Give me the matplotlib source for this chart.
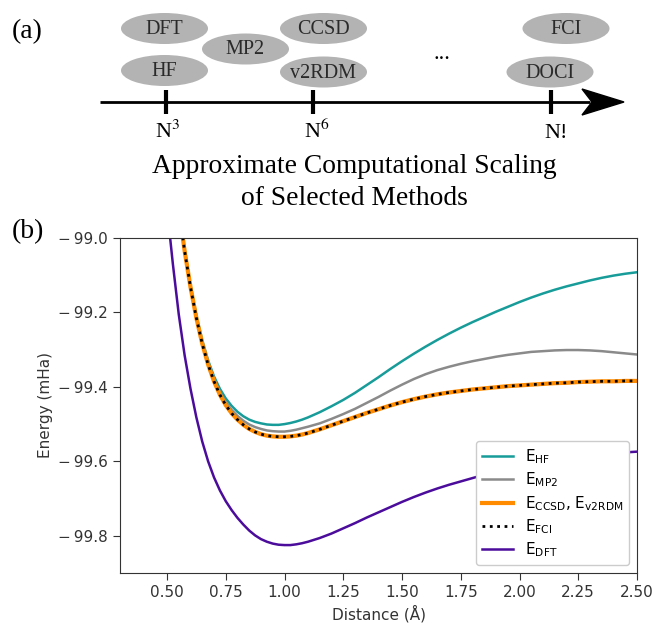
import matplotlib.pyplot as plt
from matplotlib.patches import Ellipse, Polygon

# bond distances (Angstrom): fine spacing near the well, coarser further out
distance = [0.450, 0.475, 0.500, 0.525, 0.550, 0.575, 0.600, 0.625, 0.650,
            0.675, 0.700, 0.725, 0.750, 0.775, 0.800, 0.825, 0.850, 0.875,
            0.900, 0.925, 0.950, 0.975, 1.000, 1.025, 1.050, 1.075, 1.100,
            1.15, 1.20, 1.25, 1.30, 1.35, 1.40, 1.45, 1.50, 1.55, 1.60, 1.65,
            1.70, 1.75, 1.80, 1.85, 1.90, 1.95, 2.00, 2.05, 2.10, 2.15, 2.20,
            2.25, 2.30, 2.35, 2.40, 2.45, 2.50]

e_hf = [-98.44, -98.55, -98.66, -98.79, -98.915, -99.030, -99.127, -99.208,
        -99.275, -99.329, -99.372, -99.405, -99.431, -99.451, -99.467, -99.479,
        -99.488, -99.494, -99.498, -99.501, -99.502, -99.502, -99.500, -99.497,
        -99.493, -99.488, -99.482,
        -99.468, -99.452, -99.435, -99.416, -99.395, -99.374, -99.352, -99.331,
        -99.311, -99.292, -99.274, -99.257, -99.241, -99.226, -99.212, -99.198,
        -99.185, -99.172, -99.160, -99.149, -99.139, -99.130, -99.122, -99.114,
        -99.107, -99.101, -99.096, -99.092]

e_mp2 = [-98.445, -98.555, -98.665, -98.795, -98.918, -99.033, -99.130, -99.212,
         -99.280, -99.335, -99.379, -99.414, -99.441, -99.462, -99.478, -99.491,
         -99.501, -99.508, -99.513, -99.517, -99.519, -99.520, -99.520, -99.518,
         -99.515, -99.511, -99.507,
         -99.498, -99.486, -99.473, -99.459, -99.443, -99.427, -99.410, -99.394,
         -99.379, -99.366, -99.355, -99.346, -99.338, -99.331, -99.325, -99.319,
         -99.314, -99.310, -99.306, -99.304, -99.302, -99.301, -99.301, -99.302,
         -99.304, -99.307, -99.310, -99.313]

e_ccsd = [-98.45, -98.56, -98.67, -98.80, -98.920, -99.035, -99.132, -99.215,
          -99.284, -99.340, -99.385, -99.421, -99.449, -99.471, -99.488, -99.502,
          -99.513, -99.521, -99.527, -99.531, -99.533, -99.534, -99.534, -99.533,
          -99.531, -99.528, -99.524,
          -99.514, -99.503, -99.492, -99.481, -99.470, -99.460, -99.450, -99.441,
          -99.433, -99.426, -99.420, -99.415, -99.411, -99.407, -99.404, -99.401,
          -99.398, -99.396, -99.394, -99.392, -99.390, -99.389, -99.387, -99.386,
          -99.385, -99.385, -99.384, -99.384]

e_fci = list(e_ccsd)

e_dft = [-98.58, -98.76, -98.92, -99.070, -99.205, -99.315, -99.405, -99.482,
         -99.547, -99.600, -99.643, -99.678, -99.707, -99.731, -99.752, -99.770,
         -99.786, -99.799, -99.809, -99.816, -99.821, -99.824, -99.825, -99.825,
         -99.823, -99.820, -99.816,
         -99.806, -99.794, -99.780, -99.766, -99.751, -99.737, -99.723, -99.709,
         -99.696, -99.684, -99.673, -99.663, -99.654, -99.645, -99.636, -99.628,
         -99.621, -99.614, -99.608, -99.602, -99.597, -99.592, -99.588, -99.584,
         -99.581, -99.578, -99.576, -99.574]

# methods on the cost axis, grouped by scaling
methods = ['DFT', 'HF', 'MP2', 'CCSD', 'v2RDM', 'FCI', 'DOCI']
scaling_labels = [r'N$^{3}$', r'N$^{6}$', 'N!']

x_ticks = [0.5, 0.75, 1.0, 1.25, 1.5, 1.75, 2.0, 2.25, 2.5]
y_ticks = [-99.8, -99.6, -99.4, -99.2, -99.0]

serif = 'Liberation Serif'
fig = plt.figure(figsize=(6.54, 6.23), dpi=100)

# ---- (a) schematic, drawn in pixel units ----
top = fig.add_axes([0, (623 - 232) / 623, 1, 232 / 623])
top.set_xlim(0, 654)
top.set_ylim(232, 0)
top.axis('off')

bubble_xy = [(164.5, 28.5), (164.5, 70.5), (245.5, 49), (323.5, 28.5),
             (323.5, 72), (566, 28.5), (550, 72)]
for name, (cx, cy) in zip(methods, bubble_xy):
    top.add_patch(Ellipse((cx, cy), 87, 31, facecolor='#b3b3b3', edgecolor='none'))
    top.text(cx, cy + 1, name, ha='center', va='center', fontsize=14.5,
             family=serif, color='#2a2a2a')

top.plot([100, 590], [102, 102], color='black', lw=2.0, solid_capstyle='butt')
top.add_patch(Polygon([(624, 102), (582, 89), (592, 102), (582, 115)],
                      closed=True, color='black'))

tick_x = [166, 313, 551]
label_x = [168, 317, 556]
for tx, lx, lab in zip(tick_x, label_x, scaling_labels):
    top.plot([tx, tx], [90, 114], color='black', lw=3.0, solid_capstyle='butt')
    top.text(lx, 138, lab, ha='center', va='baseline', fontsize=16,
             family=serif, math_fontfamily='stix')

top.text(442, 59, '...', ha='center', va='baseline', fontsize=16, family=serif)
top.text(354, 173, 'Approximate Computational Scaling', ha='center',
         va='baseline', fontsize=19.8, family=serif)
top.text(354, 205, 'of Selected Methods', ha='center', va='baseline',
         fontsize=19.8, family=serif)
top.text(12, 38, '(a)', ha='left', va='baseline', fontsize=20, family=serif)

fig.text(12 / 654, 1 - 238 / 623, '(b)', ha='left', va='baseline',
         fontsize=20, family=serif)

# ---- (b) potential energy curves ----
ax = fig.add_axes([120 / 654, 1 - 573 / 623, (637 - 120) / 654, (573 - 238) / 623])
kw = dict(solid_joinstyle='round')
ax.plot(distance, e_hf, color='#179c9a', lw=1.8, label=r'E$_{\mathrm{HF}}$', **kw)
ax.plot(distance, e_mp2, color='#8a8a8a', lw=1.8, label=r'E$_{\mathrm{MP2}}$', **kw)
ax.plot(distance, e_ccsd, color='darkorange', lw=3.0,
        label=r'E$_{\mathrm{CCSD}}$, E$_{\mathrm{v2RDM}}$', **kw)
ax.plot(distance, e_fci, color='black', lw=2.0, ls=':', label=r'E$_{\mathrm{FCI}}$')
ax.plot(distance, e_dft, color='#4b0c9c', lw=1.8, label=r'E$_{\mathrm{DFT}}$', **kw)

ax.set_xlim(0.3, 2.5)
ax.set_ylim(-99.9, -99.0)
ax.set_xticks(x_ticks)
ax.set_xticklabels([f'{v:.2f}' for v in x_ticks])
ax.set_yticks(y_ticks)
ax.set_yticklabels([f'\u2212\u2009{abs(v):.1f}' for v in y_ticks])
ax.tick_params(labelsize=11, length=5, color='#333333', labelcolor='#333333')
ax.set_xlabel('Distance (Å)', fontsize=11, color='#333333')
ax.set_ylabel('Energy (mHa)', fontsize=11, color='#333333')
for s in ax.spines.values():
    s.set_color('#333333')
ax.legend(loc='lower right', fontsize=11, framealpha=1, edgecolor='#cccccc',
          labelspacing=0.3)

fig.savefig('out.png', dpi=100)
